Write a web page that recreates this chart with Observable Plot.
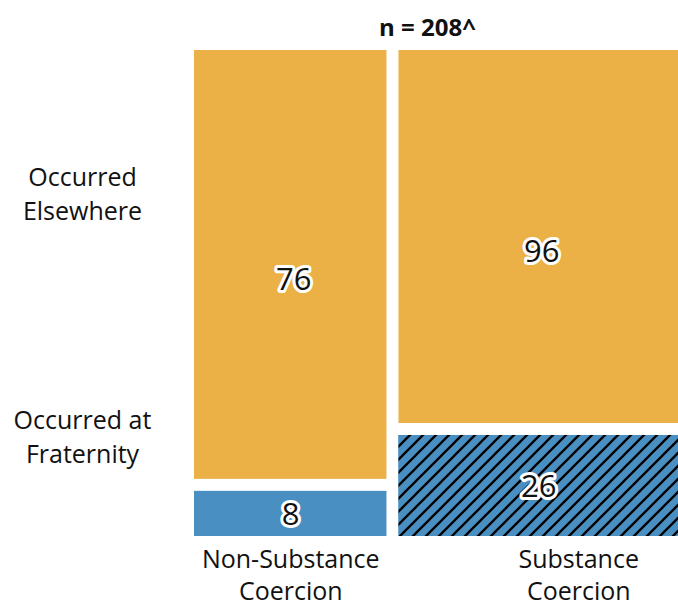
<!DOCTYPE html>
<html>
<head>
<meta charset="utf-8">
<script src="https://cdn.jsdelivr.net/npm/d3@7"></script>
<script src="https://cdn.jsdelivr.net/npm/@observablehq/plot@0.6"></script>
<style>
  html, body { margin: 0; padding: 0; background: #fff; }
  #chart svg { display: block; }
</style>
</head>
<body>
<div id="chart"></div>
<script>
// ---- data ----
const columns = ["Non-Substance\nCoercion", "Substance\nCoercion"];
const elsewhere = [76, 96];
const fraternity = [8, 26];
const rowLabels = ["Occurred\nElsewhere", "Occurred at\nFraternity"];
const rowTicks = [0.726, 0.214];
const title = "n = 208^";

// ---- layout ----
const W = 678, H = 608;
const mL = 194, mR = 0, mT = 50, mB = 72;
const GAP = 12;
const plotW = W - mL - mR, plotH = H - mT - mB;

const totals = columns.map((c, i) => elsewhere[i] + fraternity[i]);
const grand = d3.sum(totals);
const gx = GAP * grand / (plotW - GAP);
const gy = GAP / (plotH - GAP);

const cells = [];
const colInfo = [];
let x0 = 0;
columns.forEach((c, i) => {
  const x1 = x0, x2 = x0 + totals[i];
  const fFrat = fraternity[i] / totals[i];
  cells.push({col: i, kind: "fraternity", value: fraternity[i], x1, x2, y1: 0, y2: fFrat, fill: i === 1 ? "url(#hatch)" : "#4a8fc2"});
  cells.push({col: i, kind: "elsewhere", value: elsewhere[i], x1, x2, y1: fFrat + gy, y2: 1 + gy, fill: "#ebb146"});
  colInfo.push({label: c, xm: (x1 + x2) / 2, i});
  x0 = x2 + gx;
});
const xMax = x0 - gx;

const font = "'Open Sans', 'DejaVu Sans', sans-serif";

const plot = Plot.plot({
  width: W,
  height: H,
  marginLeft: mL,
  marginRight: mR,
  marginTop: mT,
  marginBottom: mB,
  style: {fontFamily: font, background: "#fff", overflow: "visible"},
  x: {domain: [0, xMax], axis: null},
  y: {domain: [0, 1 + gy], axis: null},
  marks: [
    Plot.rect(cells.filter(d => d.col === 1 && d.kind === "fraternity"), {x1: "x1", x2: "x2", y1: "y1", y2: "y2", fill: "#4a8fc2"}),
    Plot.rect(cells, {x1: "x1", x2: "x2", y1: "y1", y2: "y2", fill: d => d.fill}),
    // value labels
    Plot.text(cells.filter(d => d.kind === "fraternity"), {
      x: d => (d.x1 + d.x2) / 2, y: d => (d.y1 + d.y2) / 2, text: d => String(d.value),
      fontSize: 31, fill: "#111", stroke: "#fff", strokeWidth: 6, strokeLinejoin: "round", dy: 1
    }),
    Plot.text(cells.filter(d => d.kind === "elsewhere"), {
      x: d => (d.x1 + d.x2) / 2, y: d => (d.y1 + d.y2) / 2, text: d => String(d.value),
      fontSize: 31, fill: "#111", stroke: "#fff", strokeWidth: 6, strokeLinejoin: "round", dy: 15, dx: 3
    }),
    // row labels
    Plot.text(rowLabels, {
      y: (d, i) => rowTicks[i], text: d => d, frameAnchor: "left", dx: -112,
      textAnchor: "middle", fontSize: 25, fill: "#111", lineHeight: 1.36
    }),
    // column labels
    Plot.text(colInfo.filter(d => d.i === 0), {
      x: "xm", text: "label", frameAnchor: "bottom", lineAnchor: "top", dy: 8,
      fontSize: 25, fill: "#111", lineHeight: 1.3
    }),
    Plot.text(colInfo.filter(d => d.i === 1), {
      x: "xm", text: "label", frameAnchor: "bottom", lineAnchor: "top", dy: 8, dx: 40,
      fontSize: 25, fill: "#111", lineHeight: 1.3
    }),
    // title
    Plot.text([title], {
      frameAnchor: "top", lineAnchor: "bottom", dy: -15, dx: -9, text: d => d,
      fontSize: 24, fontWeight: "bold", fill: "#111"
    })
  ]
});

const svg = d3.select(plot);
const defs = svg.insert("defs", ":first-child");
const S = 13;
const pat = defs.append("pattern")
  .attr("id", "hatch")
  .attr("patternUnits", "userSpaceOnUse")
  .attr("width", S).attr("height", S);
pat.append("rect").attr("width", S).attr("height", S).attr("fill", "#4a8fc2");
pat.append("path")
  .attr("d", `M-2,2 L2,-2 M0,${S} L${S},0 M${S - 2},${S + 2} L${S + 2},${S - 2}`)
  .attr("stroke", "#000").attr("stroke-width", 2.3);

document.getElementById("chart").appendChild(plot);
</script>
</body>
</html>
